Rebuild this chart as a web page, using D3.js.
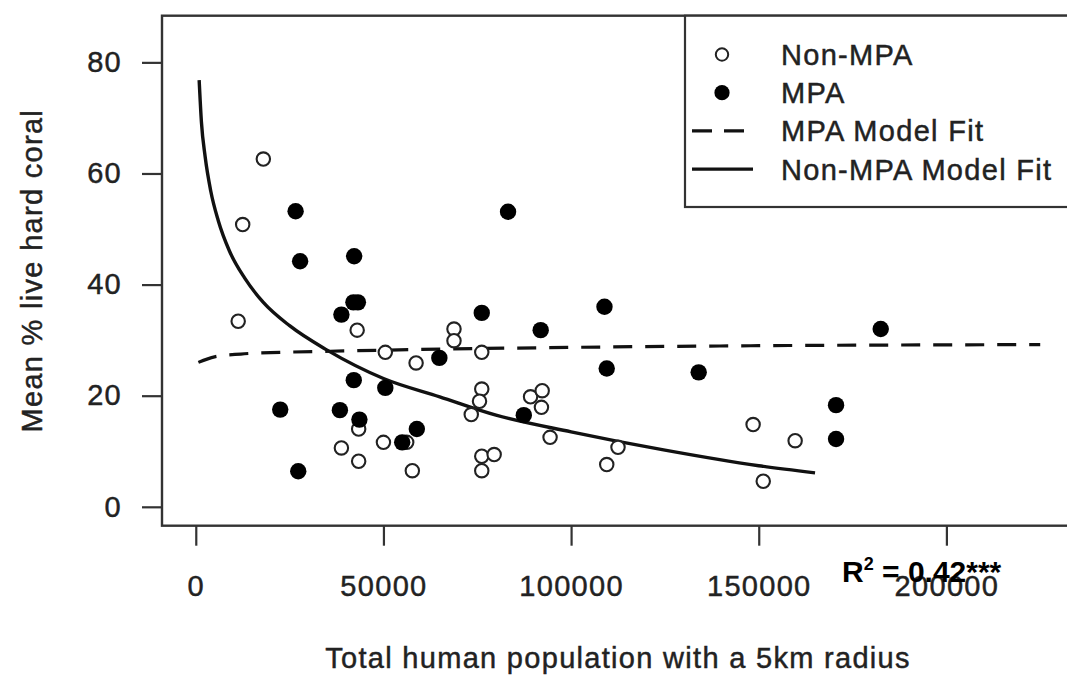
<!DOCTYPE html>
<html>
<head>
<meta charset="utf-8">
<script src="https://cdn.jsdelivr.net/npm/d3@7"></script>
<style>
body { margin: 0; background: #fff; }
svg text { font-family: "Liberation Sans", Arial, sans-serif; fill: #222; }
</style>
</head>
<body>
<svg id="chart" width="1067" height="677"></svg>
<script>
// non-MPA sites (open circles)
var nonMpaX = [18000, 12500, 11300, 43000, 68800, 68800, 76200, 50500, 58700, 76200,
               75600, 73400, 43400, 38800, 50000, 56200, 43400, 57700, 76200, 79500,
               76200, 89200, 92300, 92100, 94400, 112500, 109500, 148500, 159700, 151200]
var nonMpaY = [62.6, 50.8, 33.4, 31.8, 32.0, 29.9, 27.8, 27.8, 25.9, 21.2,
               19.0, 16.6, 14.0, 10.6, 11.6, 11.6, 8.2, 6.5, 9.1, 9.4,
               6.5, 19.8, 20.9, 17.9, 12.5, 10.7, 7.6, 14.8, 11.9, 4.6]

// MPA sites (filled)
var mpaX = [26600, 27800, 42200, 42000, 43200, 38800, 76200, 64900, 42100, 50500,
            22500, 38400, 43600, 58900, 55000, 27300, 91900, 108900, 109500, 134000,
            87400, 170600, 170600, 182500, 83200]
var mpaY = [53.2, 44.2, 45.1, 36.8, 36.8, 34.6, 34.9, 26.8, 22.8, 21.4,
            17.5, 17.4, 15.7, 14.0, 11.6, 6.4, 31.8, 36.0, 24.9, 24.2,
            16.5, 18.3, 12.2, 32.0, 53.1]

// model fit curves
var nonMpaFitX = [900, 1500, 2500, 4000, 6000, 9000, 13000, 18000, 25000, 35000,
                  50000, 65000, 80000, 100000, 125000, 150000, 165000]
var nonMpaFitY = [76.8, 69.3, 63.0, 56.8, 51.5, 46.0, 41.2, 36.8, 32.6, 28.2,
                  23.1, 19.8, 16.5, 13.5, 10.2, 7.4, 6.1]
var mpaFitX = [700, 5000, 12000, 22500, 35800, 50000, 100000, 150000, 225000]
var mpaFitY = [26.0, 27.0, 27.5, 27.8, 28.0, 28.2, 28.7, 29.0, 29.2]

var xTicks = [0, 50000, 100000, 150000, 200000]
var yTicks = [0, 20, 40, 60, 80]
var legendLabels = ["Non-MPA", "MPA", "MPA Model Fit", "Non-MPA Model Fit"]

var svg = d3.select("#chart")
var pLeft = 162, pRight = 1074, pTop = 15.7, pBottom = 525.7

var x = d3.scaleLinear().domain([-9000, 234000]).range([pLeft, pRight])
var y = d3.scaleLinear().domain([-3.4, 88.4]).range([pBottom, pTop])

// R-ish helvetica look: a bit bigger, spaced, slightly heavier
var txt = function(sel)
{
    return sel.style("font-size", "29px").style("letter-spacing", "1.3px")
        .style("stroke", "#222").style("stroke-width", "0.45px")
}

// axes
var xAxis = svg.append("g")
    .attr("transform", "translate(0," + pBottom + ")")
    .call(d3.axisBottom(x).tickValues(xTicks).tickSize(20).tickFormat(d3.format("d")))
xAxis.select(".domain").remove()
xAxis.selectAll("line").attr("stroke", "#333").attr("stroke-width", 2.2)
xAxis.selectAll("text").attr("fill", "#222").attr("font-family", null).attr("font-size", null)
    .attr("dy", null).attr("y", 70).call(txt)

var yAxis = svg.append("g")
    .attr("transform", "translate(" + pLeft + ",0)")
    .call(d3.axisLeft(y).tickValues(yTicks).tickSize(20))
yAxis.select(".domain").remove()
yAxis.selectAll("line").attr("stroke", "#333").attr("stroke-width", 2.2)
yAxis.selectAll("text").attr("fill", "#222").attr("font-family", null).attr("font-size", null)
    .attr("x", -40).call(txt)

svg.append("text")
    .attr("x", (pLeft + pRight) / 2).attr("y", 668)
    .attr("text-anchor", "middle")
    .text("Total human population with a 5km radius")
    .call(txt)

svg.append("text")
    .attr("transform", "translate(42," + (pTop + pBottom) / 2 + ") rotate(-90)")
    .attr("text-anchor", "middle")
    .text("Mean % live hard coral")
    .call(txt)

// fit lines
var line = d3.line()
    .x(function(d) { return x(d[0]) })
    .y(function(d) { return y(d[1]) })
    .curve(d3.curveMonotoneX)

svg.append("path")
    .datum(d3.zip(mpaFitX, mpaFitY))
    .attr("d", line)
    .attr("fill", "none").attr("stroke", "#111").attr("stroke-width", 3.2)
    .attr("stroke-dasharray", "19,13")

svg.append("path")
    .datum(d3.zip(nonMpaFitX, nonMpaFitY))
    .attr("d", line)
    .attr("fill", "none").attr("stroke", "#111").attr("stroke-width", 3.4)

// points
svg.append("g").selectAll("circle")
    .data(d3.zip(nonMpaX, nonMpaY))
    .enter()
    .append("circle")
    .attr("cx", function(d) { return x(d[0]) })
    .attr("cy", function(d) { return y(d[1]) })
    .attr("r", 6.7)
    .attr("fill", "#fff").attr("stroke", "#222").attr("stroke-width", 2.1)

svg.append("g").selectAll("circle")
    .data(d3.zip(mpaX, mpaY))
    .enter()
    .append("circle")
    .attr("cx", function(d) { return x(d[0]) })
    .attr("cy", function(d) { return y(d[1]) })
    .attr("r", 8.2)
    .attr("fill", "#000")

// frame
svg.append("rect")
    .attr("x", pLeft).attr("y", pTop)
    .attr("width", pRight - pLeft).attr("height", pBottom - pTop)
    .attr("fill", "none").attr("stroke", "#333").attr("stroke-width", 2.4)

// legend
var lg = svg.append("g")
lg.append("rect")
    .attr("x", 685).attr("y", pTop)
    .attr("width", pRight - 685).attr("height", 207 - pTop)
    .attr("fill", "#fff").attr("stroke", "#333").attr("stroke-width", 2.2)

var rowY = function(i) { return 54.5 + i * 38.2 }

lg.append("circle").attr("cx", 722).attr("cy", rowY(0)).attr("r", 6.2)
    .attr("fill", "#fff").attr("stroke", "#222").attr("stroke-width", 2)
lg.append("circle").attr("cx", 722).attr("cy", rowY(1)).attr("r", 7.6).attr("fill", "#000")
lg.append("line").attr("x1", 692).attr("x2", 745).attr("y1", rowY(2)).attr("y2", rowY(2))
    .attr("stroke", "#111").attr("stroke-width", 3.4).attr("stroke-dasharray", "20,12")
lg.append("line").attr("x1", 692).attr("x2", 753).attr("y1", rowY(3)).attr("y2", rowY(3))
    .attr("stroke", "#111").attr("stroke-width", 3.4)

lg.selectAll("text.lab")
    .data(legendLabels)
    .enter()
    .append("text")
    .attr("class", "lab")
    .attr("x", 781)
    .attr("y", function(d, i) { return rowY(i) + 10.5 })
    .text(function(d) { return d })
    .call(txt)

// R squared note
var r2 = svg.append("text")
    .attr("x", 842).attr("y", 582)
    .style("font-family", "'Liberation Sans Narrow', 'Liberation Sans', Arial, sans-serif")
    .style("font-weight", "bold").style("font-size", "30px").style("fill", "#000")
r2.append("tspan").text("R")
r2.append("tspan").attr("dy", -12).style("font-size", "18px").text("2")
r2.append("tspan").attr("dy", 12).text(" = 0.42***")
</script>
</body>
</html>
